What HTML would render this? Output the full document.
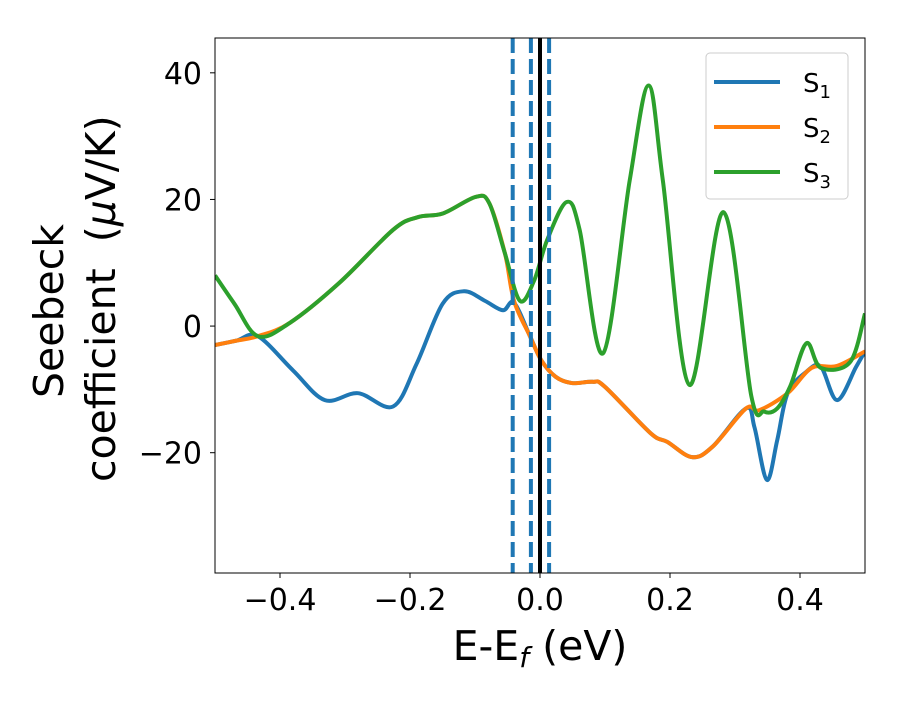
<!DOCTYPE html>
<html><head><meta charset="utf-8"><style>
body{margin:0;background:#fff;}
svg text{font-family:"DejaVu Sans","Liberation Sans",sans-serif;}
</style></head><body>
<svg id="chart" width="900" height="700" viewBox="0 0 900 700">
<g id="series"></g>
<rect x="215" y="38" width="650" height="535" fill="none" stroke="#000" stroke-width="1"/>
<g id="axes"></g>
<text x="540" y="660" font-size="41" text-anchor="middle">E-E<tspan font-style="italic" font-size="28" dy="7">f</tspan><tspan dy="-7"> (eV)</tspan></text>
<text transform="translate(63,398) rotate(-90)" font-size="41" text-anchor="start">Seebeck</text>
<text transform="translate(115,482) rotate(-90)" font-size="41" text-anchor="start" xml:space="preserve">coefficient  (<tspan font-style="italic">μ</tspan>V/K)</text>
<g>
<rect x="706" y="53" width="142" height="146" rx="4" fill="#fff" fill-opacity="0.8" stroke="#ccc"/>
<line x1="714" y1="82" x2="780" y2="82" stroke="#1f77b4" stroke-width="4"/>
<text x="803" y="92" font-size="26">S<tspan font-size="18" dy="6">1</tspan></text>
<line x1="714" y1="127" x2="780" y2="127" stroke="#ff7f0e" stroke-width="4"/>
<text x="803" y="137" font-size="26">S<tspan font-size="18" dy="6">2</tspan></text>
<line x1="714" y1="172" x2="780" y2="172" stroke="#2ca02c" stroke-width="4"/>
<text x="803" y="182" font-size="26">S<tspan font-size="18" dy="6">3</tspan></text>
</g>
</svg>
<script>
const xTicks=[-0.4,-0.2,0.0,0.2,0.4];
const xTickLabels=["\u22120.4","\u22120.2","0.0","0.2","0.4"];
const yTicks=[-20,0,20,40];
const yTickLabels=["\u221220","0","20","40"];
const vDashed=[-0.042,-0.014,0.014];
const vSolid=[0.0];
const s1X=[-0.5,-0.467,-0.434,-0.38,-0.331,-0.28,-0.226,-0.19,-0.15,-0.117,-0.085,-0.057,-0.04,-0.015,0.002,0.024,0.049,0.081,0.1,0.17,0.196,0.234,0.266,0.317,0.33,0.349,0.365,0.381,0.41,0.432,0.457,0.486,0.5];
const s1Y=[-3,-2.3,-1.6,-7,-11.7,-10.6,-12.7,-6,3.5,5.5,4,2.5,3.7,-1.7,-5.4,-8,-9,-8.8,-9.6,-16.9,-18.3,-20.7,-19,-13,-16,-24.3,-18,-10.6,-7.2,-6.4,-11.7,-6.5,-4];
const s2X=[-0.5,-0.467,-0.434,-0.385,-0.309,-0.226,-0.188,-0.149,-0.099,-0.078,-0.054,-0.04,-0.015,0.002,0.024,0.049,0.081,0.1,0.17,0.196,0.234,0.266,0.317,0.337,0.381,0.418,0.457,0.5];
const s2Y=[-3,-2.3,-1.6,0.5,6.8,15.2,17.2,17.8,20.4,19.4,11.5,4,-1.7,-5.4,-8,-9,-8.8,-9.6,-16.9,-18.3,-20.7,-19,-13,-13.3,-10.6,-6.6,-6.3,-4];
const s3X=[-0.5,-0.47,-0.434,-0.385,-0.309,-0.226,-0.188,-0.149,-0.099,-0.078,-0.054,-0.031,-0.009,0.011,0.041,0.061,0.097,0.138,0.167,0.189,0.23,0.282,0.325,0.345,0.365,0.385,0.41,0.432,0.477,0.5];
const s3Y=[8,3.5,-1.6,0.5,6.8,15.2,17.2,17.8,20.4,19.4,11.5,4,7.2,13.6,19.6,15.2,-4.3,23,38,23,-9.3,18,-11,-13.5,-13,-9.5,-2.7,-6.6,-5.7,2];
const NS="http://www.w3.org/2000/svg";
const X0=215,X1=865,Y0=573,Y1=38,xmin=-0.5,xmax=0.5,ymin=-39,ymax=45.5;
function sx(v){return X0+(v-xmin)/(xmax-xmin)*(X1-X0);}
function sy(v){return Y0-(v-ymin)/(ymax-ymin)*(Y0-Y1);}
function pathFor(xs,ys){
  const p=xs.map((x,i)=>[sx(x),sy(ys[i])]);
  let d="M"+p[0][0]+","+p[0][1];
  for(let i=0;i<p.length-1;i++){
    const a=p[Math.max(0,i-1)],b=p[i],c=p[i+1],e=p[Math.min(p.length-1,i+2)];
    const c1=[b[0]+(c[0]-a[0])/6,b[1]+(c[1]-a[1])/6];
    const c2=[c[0]-(e[0]-b[0])/6,c[1]-(e[1]-b[1])/6];
    d+=" C"+c1+" "+c2+" "+c;
  }
  return d;
}
const g=document.getElementById("series");
const clip=document.createElementNS(NS,"clipPath");clip.id="pc";
const cr=document.createElementNS(NS,"rect");
cr.setAttribute("x",X0);cr.setAttribute("y",Y1);cr.setAttribute("width",X1-X0);cr.setAttribute("height",Y0-Y1);
clip.appendChild(cr);g.appendChild(clip);
g.setAttribute("clip-path","url(#pc)");
function addLine(xs,ys,color,name){
  const el=document.createElementNS(NS,"path");
  el.setAttribute("d",pathFor(xs,ys));
  el.setAttribute("fill","none");el.setAttribute("stroke",color);el.setAttribute("stroke-width","4");
  el.setAttribute("stroke-linejoin","round");
  
  
  g.appendChild(el);
}
addLine(s1X,s1Y,"#1f77b4","line-s1");
addLine(s2X,s2Y,"#ff7f0e","line-s2");
addLine(s3X,s3Y,"#2ca02c","line-s3");
vDashed.forEach(v=>{
  const l=document.createElementNS(NS,"line");
  l.setAttribute("x1",sx(v));l.setAttribute("x2",sx(v));l.setAttribute("y1",Y1);l.setAttribute("y2",Y0);
  l.setAttribute("stroke","#1f77b4");l.setAttribute("stroke-width","4");l.setAttribute("stroke-dasharray","15,6");
  
  
  g.appendChild(l);
});
vSolid.forEach(v=>{
  const l=document.createElementNS(NS,"line");
  l.setAttribute("x1",sx(v));l.setAttribute("x2",sx(v));l.setAttribute("y1",Y1);l.setAttribute("y2",Y0);
  l.setAttribute("stroke","#000");l.setAttribute("stroke-width","4");
  
  
  g.appendChild(l);
});
const ax=document.getElementById("axes");
xTicks.forEach((v,i)=>{
  const t=document.createElementNS(NS,"line");
  t.setAttribute("x1",sx(v));t.setAttribute("x2",sx(v));t.setAttribute("y1",Y0);t.setAttribute("y2",Y0+5);t.setAttribute("stroke","#000");
  
  
  ax.appendChild(t);
  const tx=document.createElementNS(NS,"text");
  tx.setAttribute("x",sx(v));tx.setAttribute("y",Y0+37);tx.setAttribute("font-size","30");tx.setAttribute("text-anchor","middle");
  tx.textContent=xTickLabels[i];
  
  
  ax.appendChild(tx);
});
yTicks.forEach((v,i)=>{
  const t=document.createElementNS(NS,"line");
  t.setAttribute("x1",X0-5);t.setAttribute("x2",X0);t.setAttribute("y1",sy(v));t.setAttribute("y2",sy(v));t.setAttribute("stroke","#000");
  
  
  ax.appendChild(t);
  const tx=document.createElementNS(NS,"text");
  tx.setAttribute("x",X0-13);tx.setAttribute("y",sy(v)+11);tx.setAttribute("font-size","30");tx.setAttribute("text-anchor","end");
  tx.textContent=yTickLabels[i];
  
  
  ax.appendChild(tx);
});
</script>
</body></html>
